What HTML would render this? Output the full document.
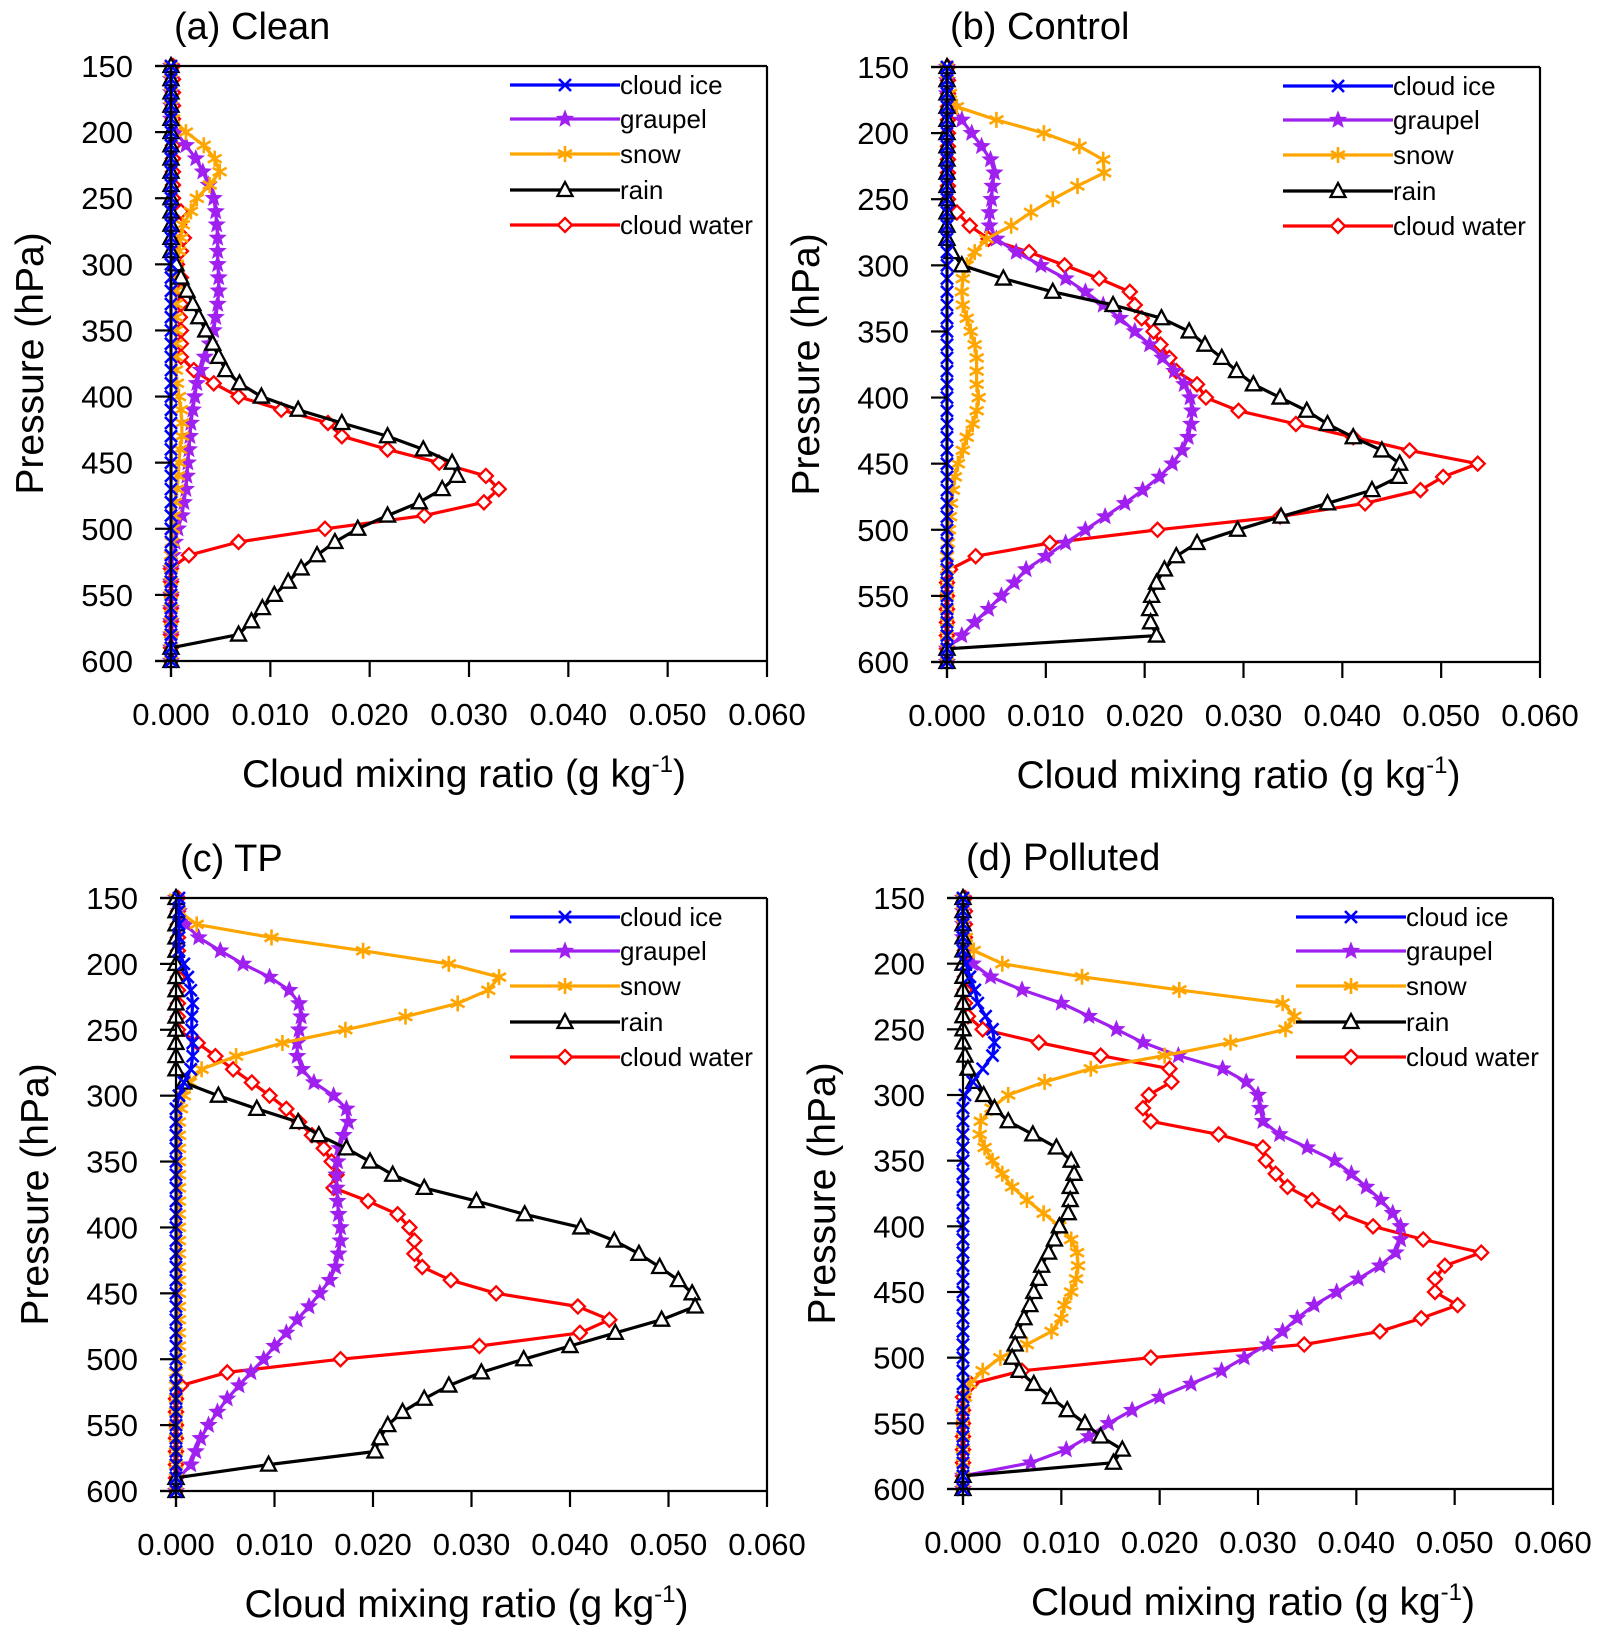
<!DOCTYPE html>
<html><head><meta charset="utf-8"><style>
html,body{margin:0;padding:0;background:#fff;}
svg{display:block;font-family:"Liberation Sans",Arial,sans-serif;}
</style></head><body>
<svg id="fig" width="1608" height="1631" viewBox="0 0 1608 1631" xmlns="http://www.w3.org/2000/svg"></svg>
<script>
// Pressure levels (hPa)
const levels = [150,160,170,180,190,200,210,220,230,240,250,260,270,280,290,300,310,320,330,340,350,360,370,380,390,400,410,420,430,440,450,460,470,480,490,500,510,520,530,540,550,560,570,580,590,600];
const xTicks = [0,0.01,0.02,0.03,0.04,0.05,0.06];
const xTickLabels = ["0.000","0.010","0.020","0.030","0.040","0.050","0.060"];
const yTicks = [150,200,250,300,350,400,450,500,550,600];
const seriesNames = ["cloud ice","graupel","snow","rain","cloud water"];
// values in units of 0.001 g/kg
// Panel (a) Clean
const aIce = [0,0,0,0,0,0,0,0,0,0,0,0,0,0,0,0,0,0,0,0,0,0,0,0,0,0,0,0,0,0,0,0,0,0,0,0,0,0,0,0,0,0,0,0,0,0];
const aGraupel = [0,0,0,0,0,0.5,1.5,2.5,3.2,3.8,4.3,4.5,4.6,4.7,4.7,4.7,4.8,4.8,4.7,4.5,4.3,3.9,3.4,3.0,2.6,2.4,2.2,2.0,1.9,1.8,1.7,1.6,1.5,1.3,1.1,0.7,0.4,0.2,0,0,0,0,0,0,0,0];
const aSnow = [0,0,0,0,0.2,1.5,3.3,4.4,4.9,3.9,2.6,2.0,1.2,1.0,0.8,0.6,0.5,0.5,0.5,0.5,0.5,0.5,0.5,0.5,0.6,0.8,1.0,1.1,1.1,0.9,0.8,0.7,0.6,0.4,0.3,0.2,0.1,0,0,0,0,0,0,0,0,0];
const aRain = [0,0,0,0,0,0,0,0,0,0,0,0,0,0,0,0.5,1.0,1.6,2.2,2.8,3.5,4.2,4.8,5.5,6.9,9.1,12.8,17.2,21.8,25.4,28.3,28.8,27.3,25.0,21.8,18.8,16.5,14.7,13.1,11.8,10.4,9.2,8.1,6.8,0,0];
const aWater = [0.2,0.2,0.2,0.2,0.2,0.2,0.2,0.2,0.2,0.2,0.2,1.0,0.8,1.3,1.0,0.6,1.0,1.0,1.0,0.9,1.0,1.0,1.0,2.3,4.3,6.8,11.1,15.8,17.2,21.8,27.0,31.7,33.0,31.5,25.5,15.5,6.8,1.8,0,0,0,0,0,0,0,0];
// Panel (b) Control
const bIce = [0,0,0,0,0,0,0,0,0,0,0,0,0,0,0,0,0,0,0,0,0,0,0,0,0,0,0,0,0,0,0,0,0,0,0,0,0,0,0,0,0,0,0,0,0,0];
const bGraupel = [0,0,0,0.5,1.5,2.5,3.5,4.4,4.8,4.6,4.5,4.3,4.3,5.0,7.0,9.5,12.0,14.0,15.8,17.5,19.0,20.5,21.8,23.0,24.0,24.6,24.8,24.7,24.4,23.8,22.8,21.5,19.8,18.0,16.0,14.0,12.0,10.0,8.0,6.8,5.5,4.2,2.8,1.5,0,0];
const bSnow = [0,0,0.3,1.0,5.0,9.8,13.4,15.8,15.9,13.2,10.7,8.5,6.5,4.0,2.8,2.0,1.6,1.5,1.6,2.0,2.4,2.8,3.0,3.0,3.0,3.2,3.0,2.6,2.0,1.6,1.1,0.8,0.6,0.4,0.3,0.2,0.1,0,0,0,0,0,0,0,0,0];
const bRain = [0,0,0,0,0,0,0,0,0,0,0,0,0,0,0.5,1.5,5.7,10.7,16.8,21.7,24.5,26.1,27.8,29.3,31.0,33.7,36.4,38.5,41.1,44.0,45.8,45.7,43.0,38.5,33.8,29.4,25.3,23.2,22.0,21.2,20.7,20.5,20.6,21.2,0,0];
const bWater = [0.1,0.1,0.1,0.1,0.1,0.1,0.1,0.1,0.1,0.1,0.1,1.0,2.3,4.2,8.3,11.9,15.4,18.5,19.0,19.7,20.9,21.6,22.5,23.2,25.3,26.2,29.5,35.3,41.1,46.8,53.7,50.2,47.9,42.3,33.7,21.3,10.4,2.9,0.3,0,0,0,0,0,0,0];
// Panel (c) TP
const cIce = [0.3,0.3,0.3,0.3,0.3,0.8,1.2,1.5,1.7,1.6,1.6,1.7,1.7,1.5,0.8,0.3,0,0,0,0,0,0,0,0,0,0,0,0,0,0,0,0,0,0,0,0,0,0,0,0,0,0,0,0,0,0];
const cGraupel = [0,0.3,1.0,2.3,4.5,6.8,9.5,11.5,12.5,12.7,12.5,12.3,12.3,12.8,14.0,16.0,17.3,17.5,17.0,16.6,16.4,16.3,16.3,16.4,16.5,16.7,16.7,16.5,16.2,15.6,14.6,13.5,12.3,11.2,10.0,8.9,7.6,6.4,5.2,4.2,3.3,2.5,2.0,1.5,0.3,0];
const cSnow = [0,0.3,2.1,9.7,19.0,27.7,32.8,31.7,28.6,23.3,17.2,10.8,6.1,2.6,1.4,0.8,0.5,0.3,0.3,0.3,0.3,0.3,0.3,0.3,0.3,0.3,0.3,0.3,0.3,0.3,0.3,0.3,0.3,0.3,0.3,0.3,0,0,0,0,0,0,0,0,0,0];
const cRain = [0,0,0,0,0,0,0,0,0,0,0,0,0,0,0.8,4.3,8.2,12.4,14.5,17.3,19.7,22.0,25.2,30.5,35.4,41.1,44.5,47.0,49.1,51.0,52.4,52.7,49.3,44.6,40.0,35.3,31.0,27.7,25.2,23.0,21.5,20.7,20.2,9.4,0,0];
const cWater = [0.2,0.2,0.2,0.2,0.2,0.2,0.2,0.2,0.2,0.2,0.2,2.2,4.0,5.8,7.7,9.5,11.2,12.5,13.8,15.0,15.8,16.3,16.0,19.5,22.5,23.7,24.2,24.2,25.0,27.9,32.5,40.8,44.0,41.0,30.8,16.7,5.2,0.5,0,0,0,0,0,0,0,0];
// Panel (d) Polluted
const dIce = [0,0,0,0,0,0.3,0.7,1.2,1.5,2.3,3.0,3.2,3.0,2.0,1.0,0.2,0,0,0,0,0,0,0,0,0,0,0,0,0,0,0,0,0,0,0,0,0,0,0,0,0,0,0,0,0,0];
const dGraupel = [0,0,0,0,0.3,1.0,2.8,6.0,10.0,12.8,15.6,18.3,21.9,26.4,28.8,30.0,30.2,30.5,32.2,35.0,37.8,39.5,41.0,42.5,43.7,44.5,44.5,44.0,42.4,40.2,38.0,35.7,34.0,32.5,31.0,28.6,26.3,23.2,20.0,17.2,14.8,12.8,10.5,6.9,0,0];
const dSnow = [0,0,0,0.3,1.1,4.0,12.1,22.0,32.5,33.7,32.8,27.2,20.5,13.0,8.3,4.6,2.9,1.8,1.7,2.2,3.0,4.0,5.0,6.5,8.2,9.8,11.0,11.6,11.7,11.5,11.0,10.3,10.0,9.0,6.5,3.8,2.0,0.7,0.2,0,0,0,0,0,0,0];
const dRain = [0,0,0,0,0,0,0,0,0,0,0,0,0.2,0.5,1.1,2.1,3.2,4.6,7.1,9.5,11.0,11.3,10.9,10.9,10.7,9.8,9.3,8.7,8.0,7.7,7.2,6.8,6.2,5.6,5.3,5.0,5.7,7.2,8.9,10.6,12.4,14.0,16.2,15.3,0,0];
const dWater = [0.2,0.2,0.2,0.2,0.2,0.2,0.2,0.2,0.2,0.5,2.0,7.7,14.0,21.0,21.2,18.9,18.3,19.1,26.0,30.5,30.8,31.8,33.0,35.5,38.3,41.7,46.8,52.7,49.0,48.0,48.0,50.3,46.6,42.4,34.7,19.1,6.0,0.8,0,0,0,0,0,0,0,0];

const panelTitles = ["(a) Clean","(b) Control","(c) TP","(d) Polluted"];

const NS = "http://www.w3.org/2000/svg";
const svg = document.getElementById("fig");
function mk(tag, attrs, parent){
  const e = document.createElementNS(NS, tag);
  for (const k in attrs) e.setAttribute(k, attrs[k]);
  (parent||svg).appendChild(e);
  return e;
}
const panels = [
  {x0:171,x1:767,top:66,bot:661,data:[aIce,aGraupel,aSnow,aRain,aWater],tx:174,ty:39,slug:"clean"},
  {x0:947,x1:1540,top:67,bot:662,data:[bIce,bGraupel,bSnow,bRain,bWater],tx:950,ty:39,slug:"control"},
  {x0:176,x1:767,top:898,bot:1491,data:[cIce,cGraupel,cSnow,cRain,cWater],tx:180,ty:871,slug:"tp"},
  {x0:963,x1:1553,top:898,bot:1489,data:[dIce,dGraupel,dSnow,dRain,dWater],tx:966,ty:870,slug:"polluted"}
];
const colors = ["#0000ff","#a020f0","#ffa500","#000000","#ff0000"];
const mtypes = ["x","star","aster","tri","diam"];
function marker(g, type, cx, cy, col){
  let e;
  if (type==="x"){
    e = mk("path",{d:`M${cx-6},${cy-6}L${cx+6},${cy+6}M${cx-6},${cy+6}L${cx+6},${cy-6}`,stroke:col,"stroke-width":2.6,fill:"none"},g);
  } else if (type==="star"){
    let p=[];
    for(let i=0;i<10;i++){const r=i%2?3.5:8;const a=-Math.PI/2+i*Math.PI/5;p.push((cx+r*Math.cos(a)).toFixed(1)+","+(cy+r*Math.sin(a)).toFixed(1));}
    e = mk("polygon",{points:p.join(" "),fill:col,stroke:col,"stroke-width":1.2},g);
  } else if (type==="aster"){
    let d="";
    for(let i=0;i<3;i++){const a=i*Math.PI/3;d+=`M${(cx-8*Math.sin(a)).toFixed(1)},${(cy-8*Math.cos(a)).toFixed(1)}L${(cx+8*Math.sin(a)).toFixed(1)},${(cy+8*Math.cos(a)).toFixed(1)}`;}
    e = mk("path",{d:d,stroke:col,"stroke-width":2.6,fill:"none"},g);
  } else if (type==="tri"){
    e = mk("polygon",{points:`${cx},${cy-8} ${cx+7.5},${cy+6} ${cx-7.5},${cy+6}`,fill:"#fff",stroke:col,"stroke-width":2.3},g);
  } else {
    e = mk("polygon",{points:`${cx},${cy-7} ${cx+7},${cy} ${cx},${cy+7} ${cx-7},${cy}`,fill:"#fff",stroke:col,"stroke-width":2.3},g);
  }
  return e;
}
const drawOrder = [4,1,2,3,0];
panels.forEach((P,pi)=>{
  const g = mk("g",{});
  
  
  const xs = v => P.x0 + (v/0.06)*(P.x1-P.x0);
  const ys = p => P.top + (p-150)/450*(P.bot-P.top);
  const tick = 16;
  const t = mk("text",{x:P.tx,y:P.ty,"font-size":38,fill:"#000"},g);
  t.textContent = panelTitles[pi];
  
  
  drawOrder.forEach(si=>{
    const vals = P.data[si];
    const sg = mk("g",{},g);
    
    
    const pts = levels.map((lv,i)=>xs(vals[i]/1000).toFixed(1)+","+ys(lv).toFixed(1)).join(" ");
    mk("polyline",{points:pts,fill:"none",stroke:colors[si],"stroke-width":3.2,"stroke-linejoin":"round"},sg);
    levels.forEach((lv,i)=>{
      const m = marker(sg, mtypes[si], xs(vals[i]/1000), ys(lv), colors[si]);
      
      
    });
  });
  const fr = mk("g",{stroke:"#000","stroke-width":2.2,fill:"none"},g);
  
  
  mk("line",{x1:P.x0-tick,y1:P.top,x2:P.x1,y2:P.top},fr);
  mk("line",{x1:P.x0-tick,y1:P.bot,x2:P.x1,y2:P.bot},fr);
  mk("line",{x1:P.x1,y1:P.top,x2:P.x1,y2:P.bot},fr);
  mk("line",{x1:P.x0,y1:P.top,x2:P.x0,y2:P.bot+tick},fr);
  yTicks.forEach(v=>{
    mk("line",{x1:P.x0-tick,y1:ys(v),x2:P.x0,y2:ys(v)},fr);
    const l = mk("text",{x:P.x0-38,y:ys(v)+11,"font-size":31,"text-anchor":"end",fill:"#000",stroke:"none"},g);
    l.textContent = v;
    
    
  });
  xTicks.forEach((v,i)=>{
    mk("line",{x1:xs(v),y1:P.bot,x2:xs(v),y2:P.bot+tick},fr);
    const l = mk("text",{x:xs(v),y:P.bot+64,"font-size":31,"text-anchor":"middle",fill:"#000",stroke:"none"},g);
    l.textContent = xTickLabels[i];
    
    
  });
  const xt = mk("text",{x:(P.x0+P.x1)/2-5,y:P.bot+126,"font-size":39,"text-anchor":"middle",fill:"#000"},g);
  xt.innerHTML = 'Cloud mixing ratio (g kg<tspan dy="-15" font-size="24">-1</tspan><tspan dy="15">)</tspan>';
  
  
  const ycx = P.x0-141, ycy = (P.top+P.bot)/2;
  const yt = mk("text",{x:ycx,y:ycy,"font-size":39,"text-anchor":"middle",fill:"#000",transform:`rotate(-90 ${ycx} ${ycy})`,dy:13},g);
  yt.textContent = "Pressure (hPa)";
  
  
  const lg = mk("g",{},g);
  
  
  const offs=[19,53,88,124,159];
  const lx = P.x1-257;
  seriesNames.forEach((nm,si)=>{
    const ly = P.top+offs[si];
    const eg = mk("g",{},lg);
    
    
    mk("line",{x1:lx,y1:ly,x2:lx+110,y2:ly,stroke:colors[si],"stroke-width":3.2},eg);
    marker(eg, mtypes[si], lx+55, ly, colors[si]);
    const tx = mk("text",{x:lx+110,y:ly+9,"font-size":26,fill:"#000"},eg);
    tx.textContent = nm;
  });
});
</script>
</body></html>
